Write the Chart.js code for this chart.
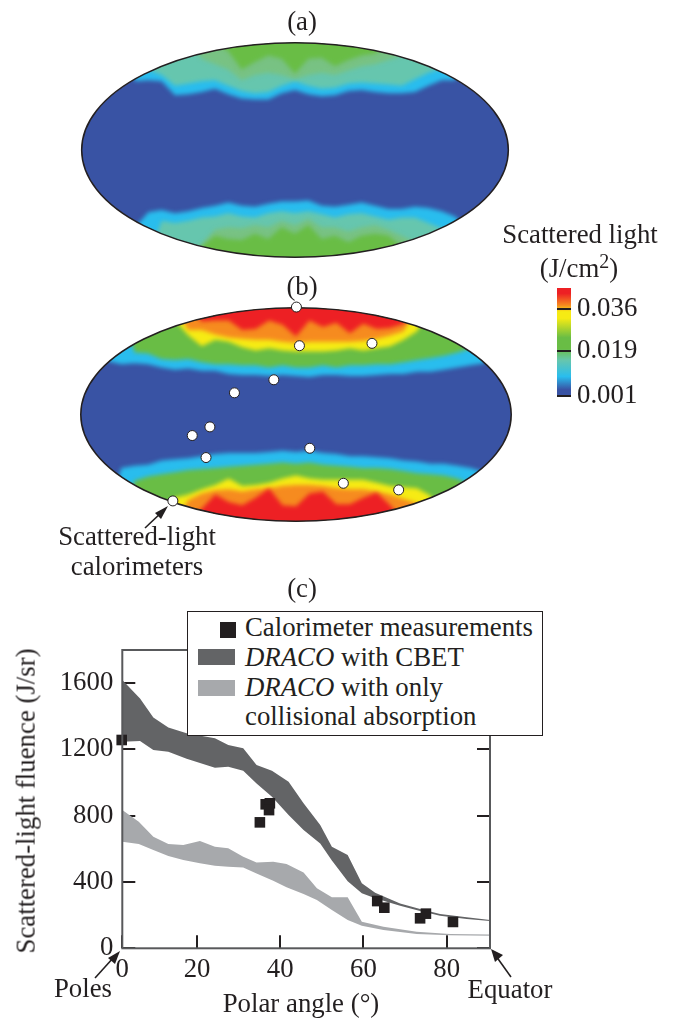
<!DOCTYPE html>
<html>
<head>
<meta charset="utf-8">
<script src="https://cdn.jsdelivr.net/npm/chart.js@4"></script>
<style>
  body { margin: 0; background: #fff; }
  #page { position: relative; width: 675px; height: 1019px; overflow: hidden; color: #231f20;
    font-family: "Liberation Serif", serif; font-size: 26.8px; }
  canvas { position: absolute; }
  .t { position: absolute; line-height: 0; white-space: nowrap; }
  .c { transform: translateX(-50%); }
  sup { font-size: 20px; line-height: 0; vertical-align: 9px; }
  #legend { position: absolute; left: 187px; top: 611px; width: 356px; height: 125px; background: #fff;
    border: 1.5px solid #231f20; box-sizing: border-box; }
  .swatch { position: absolute; }
  svg { position: absolute; left: 0; top: 0; }
</style>
</head>
<body>
<div id="page">
  <canvas id="fluence" width="675" height="419" style="left:0;top:600px"></canvas>
  <canvas id="mapA" width="448" height="236" style="left:71px;top:32px"></canvas>
  <canvas id="mapB" width="452" height="235" style="left:70px;top:297px"></canvas>
  <canvas id="colorbar" width="118" height="130" style="left:557px;top:280px"></canvas>

  <div class="t c" style="left:302px;top:21px">(a)</div>
  <div class="t c" style="left:302px;top:286px">(b)</div>
  <div class="t c" style="left:302px;top:588px">(c)</div>
  <div class="t c" style="left:580px;top:234px">Scattered light</div>
  <div class="t c" style="left:579px;top:261px">(J/cm<sup>2</sup>)</div>
  <div class="t c" style="left:137px;top:536px">Scattered-light</div>
  <div class="t c" style="left:137px;top:566px">calorimeters</div>
  <div class="t c" style="left:83px;top:988px">Poles</div>
  <div class="t c" style="left:510px;top:989px">Equator</div>
  <div class="t c" style="left:301px;top:1003px">Polar angle (°)</div>
  <div style="position:absolute;left:26px;top:801px;line-height:1;white-space:nowrap;transform:translate(-50%,-50%) rotate(-90deg)">Scattered-light fluence (J/sr)</div>

  <div id="legend"></div>
  <div class="swatch" style="left:220px;top:622px;width:16px;height:16px;background:#231f20"></div>
  <div class="swatch" style="left:198px;top:649px;width:37px;height:16px;background:#636466"></div>
  <div class="swatch" style="left:198px;top:680px;width:37px;height:16px;background:#a7a9ac"></div>
  <div class="t" style="left:245px;top:627px">Calorimeter measurements</div>
  <div class="t" style="left:245px;top:657px"><i>DRACO</i> with CBET</div>
  <div class="t" style="left:245px;top:687px"><i>DRACO</i> with only</div>
  <div class="t" style="left:245px;top:716px">collisional absorption</div>

  <svg width="675" height="1019">
    <g stroke="#231f20" stroke-width="1.6" fill="#231f20">
      <line x1="145" y1="528" x2="163" y2="511"/>
      <polygon points="168,506 161,519 155,513" stroke="none"/>
      <line x1="95" y1="978" x2="114" y2="957"/>
      <polygon points="120,951 115,964 108,958" stroke="none"/>
      <line x1="511" y1="977" x2="496" y2="956"/>
      <polygon points="491,949 503,955 495,962" stroke="none"/>
    </g>
  </svg>
</div>

<script>
// panel (c)
const polarTicks = [2.04, 20, 40, 60, 80];
const polarTickLabels = ["0", "20", "40", "60", "80"];
const fluenceTicks = [0, 400, 800, 1200, 1600];

const darkAngle = [2.04, 6.3, 9.5, 13.1, 17.5, 24.3, 27.5, 31.1, 34.3, 38, 42, 45.6, 49.6, 52.4, 56.2, 59.6, 62.8, 68.8, 73.6, 78.4, 84.8, 90.4];
const darkUpper = [1619, 1508, 1393, 1333, 1297, 1267, 1226, 1207, 1106, 1072, 1005, 875, 744, 613, 563, 392, 335, 271, 237, 207, 187, 171];
const darkLower = [1247, 1251, 1196, 1186, 1144, 1090, 1096, 1072, 995, 915, 804, 714, 633, 530, 405, 332, 302, 257, 225, 197, 177, 165];

const lightAngle = [2.04, 6, 9.5, 13.1, 16.7, 20.7, 24.3, 27.5, 31.1, 34.3, 38.3, 41.5, 45.6, 48.8, 52.4, 56.2, 59.6, 64.8, 72.8, 80.8, 90.4];
const lightUpper = [834, 764, 673, 629, 623, 647, 613, 603, 553, 517, 522, 509, 458, 362, 308, 308, 160, 130, 100, 86, 84];
const lightLower = [643, 629, 593, 557, 533, 513, 498, 492, 488, 452, 408, 368, 328, 291, 231, 171, 136, 110, 86, 78, 76];

const measuredAngle = [1.9, 35.1, 36.5, 37.5, 37.3, 63.3, 65, 73.6, 75, 81.5];
const measuredFluence = [1257, 760, 869, 875, 834, 285, 245, 181, 209, 159];

// map panels: contour height (percent of half-height) at each map column, +100/-100 means off the map
const mapX = [-100, -93.75, -87.5, -81.25, -75, -68.75, -62.5, -56.25, -50, -43.75, -37.5, -31.25, -25, -18.75, -12.5, -6.25, 0, 6.25, 12.5, 18.75, 25, 31.25, 37.5, 43.75, 50, 56.25, 62.5, 68.75, 75, 81.25, 87.5, 93.75, 100];

const aTopCyan = [100, 100, 100, 100, 64, 65, 64, 51, 52, 54, 57, 52, 48, 47, 47, 53, 56, 52, 50, 51, 55, 56, 54, 53, 53, 54, 60, 65, 65, 100, 100, 100, 100];
const aTopTeal = [100, 100, 100, 100, 100, 75, 70, 60, 62, 64, 65, 60, 55, 53, 54, 60, 64, 60, 57, 58, 62, 63, 62, 61, 60, 66, 72, 76, 100, 100, 100, 100, 100];
const aTopSage = [100, 100, 100, 100, 100, 100, 100, 100, 100, 85, 80, 75, 65, 70, 72, 70, 66, 70, 72, 70, 74, 78, 80, 84, 88, 100, 100, 100, 100, 100, 100, 100, 100];
const aTopGreen = [100, 100, 100, 100, 100, 100, 100, 100, 100, 100, 100, 92, 75, 82, 88, 85, 71, 85, 86, 78, 84, 88, 90, 100, 100, 100, 100, 100, 100, 100, 100, 100, 100];
const aBottomCyan = [-100, -100, -100, -100, -72, -58, -56, -59, -57, -54, -52, -49, -52, -53, -50, -48, -48, -47, -52, -53, -51, -49, -52, -55, -55, -53, -54, -57, -62, -74, -100, -100, -100];
const aBottomTeal = [-100, -100, -100, -100, -100, -100, -66, -68, -66, -63, -62, -59, -62, -63, -59, -57, -59, -57, -60, -63, -60, -59, -62, -65, -63, -63, -68, -73, -100, -100, -100, -100, -100];
const aBottomSage = [-100, -100, -100, -100, -100, -100, -100, -100, -100, -88, -74, -72, -73, -70, -72, -66, -70, -64, -72, -72, -76, -72, -70, -74, -80, -86, -100, -100, -100, -100, -100, -100, -100];
const aBottomGreen = [-100, -100, -100, -100, -100, -100, -100, -100, -100, -90, -80, -83, -84, -78, -83, -72, -78, -70, -83, -80, -86, -80, -78, -80, -90, -100, -100, -100, -100, -100, -100, -100, -100];

const bTopCyan = [100, 100, 50, 47, 48, 47, 44, 42, 43, 41, 41, 38, 37, 37, 36, 37, 36, 35, 37, 37, 36, 36, 37, 38, 38, 40, 40, 42, 44, 46, 48, 100, 100];
const bTopGreen = [100, 100, 100, 100, 58, 57, 52, 51, 52, 49, 47, 47, 46, 46, 44, 46, 44, 44, 46, 44, 46, 46, 47, 47, 49, 51, 53, 55, 58, 62, 100, 100, 100];
const bTopYellow = [100, 100, 100, 100, 100, 100, 100, 88, 74, 64, 70, 68, 63, 60, 62, 60, 59, 59, 59, 60, 62, 60, 62, 64, 70, 78, 100, 100, 100, 100, 100, 100, 100];
const bTopOrange = [100, 100, 100, 100, 100, 100, 100, 100, 79, 79, 75, 72, 71, 70, 70, 68, 67, 68, 68, 68, 68, 69, 71, 74, 78, 100, 100, 100, 100, 100, 100, 100, 100];
const bTopRed = [100, 100, 100, 100, 100, 100, 100, 100, 100, 87, 88, 88, 79, 80, 88, 84, 73, 88, 82, 86, 76, 85, 80, 81, 85, 100, 100, 100, 100, 100, 100, 100, 100];
const bBottomCyan = [-100, -100, -100, -50, -48, -47, -43, -42, -41, -39, -37, -36, -36, -36, -35, -34, -35, -34, -36, -37, -39, -39, -40, -41, -43, -44, -46, -46, -48, -50, -54, -100, -100];
const bBottomGreen = [-100, -100, -100, -100, -62, -58, -56, -54, -52, -51, -50, -49, -48, -47, -46, -45, -46, -45, -47, -48, -49, -50, -50, -51, -53, -55, -56, -57, -60, -66, -100, -100, -100];
const bBottomYellow = [-100, -100, -100, -100, -100, -100, -100, -78, -75, -70, -66, -60, -67, -66, -64, -60, -57, -60, -61, -61, -61, -61, -64, -67, -68, -69, -76, -100, -100, -100, -100, -100, -100];
const bBottomOrange = [-100, -100, -100, -100, -100, -100, -100, -100, -80, -74, -71, -70, -72, -70, -69, -67, -66, -66, -67, -69, -70, -70, -72, -75, -79, -83, -100, -100, -100, -100, -100, -100, -100];
const bBottomRed = [-100, -100, -100, -100, -100, -100, -100, -100, -100, -88, -75, -82, -85, -78, -69, -85, -86, -74, -72, -84, -84, -78, -73, -85, -100, -100, -100, -100, -100, -100, -100, -100, -100];

const calorimeterX = [0.2, 1.6, 35.3, -10.3, -28.6, -40, -48.2, -41.8, 6.4, 22, 47.7, -57.2];
const calorimeterY = [100.6, 64.4, 66.6, 32.5, 20.3, -11.6, -19.7, -40.3, -31.6, -64.4, -70.6, -80.9];

const colorbarRange = [0.001, 0.0444];
const colorbarTicks = [0.001, 0.019, 0.036];

const INK = "#231f20";
const FONT = "Liberation Serif";
const BLUE = "#3953a4", CYAN = "#29bdee", TEAL = "#66c6ae", SAGE = "#78c283", GREEN = "#69bd45";
const YELLOW = "#f6eb14", ORANGE = "#f68b1f", RED = "#ed2024";

Chart.defaults.animation = false;
Chart.defaults.responsive = false;

function toPoints(xs, ys) {
  return ys.map((y, i) => ({ x: xs[i], y: y }));
}

function contour(ys, color, fillTo, order) {
  return {
    type: "line",
    data: toPoints(mapX, ys),
    backgroundColor: color,
    borderWidth: 0,
    pointRadius: 0,
    fill: fillTo,
    order: order,
  };
}

function ellipsePath(chart) {
  const { ctx, scales } = chart;
  const cx = scales.x.getPixelForValue(0);
  const cy = scales.y.getPixelForValue(0);
  const rx = scales.x.getPixelForValue(100) - cx;
  const ry = scales.y.getPixelForValue(-100) - cy;
  ctx.beginPath();
  ctx.ellipse(cx, cy, rx, ry, 0, 0, Math.PI * 2);
}

// clips the filled contours to the map outline, the calorimeter dots stay on top of it
const mapOutline = {
  id: "mapOutline",
  beforeDraw(chart) {
    const { ctx } = chart;
    ctx.save();
    ellipsePath(chart);
    ctx.clip();
    ctx.fillStyle = BLUE;
    ctx.fill();
    ctx.filter = "blur(2.2px)";
  },
  beforeDatasetsDraw(chart) {
    const { ctx } = chart;
    ctx.restore();
    ellipsePath(chart);
    ctx.strokeStyle = INK;
    ctx.lineWidth = 1.5;
    ctx.stroke();
  },
};

function drawMap(id, datasets) {
  new Chart(document.getElementById(id), {
    data: { datasets: datasets },
    plugins: [mapOutline],
    options: {
      layout: { padding: 0, autoPadding: false },
      plugins: { legend: { display: false }, tooltip: { enabled: false }, filler: { drawTime: "beforeDatasetsDraw" } },
      scales: {
        x: { type: "linear", min: -105, max: 105, display: false },
        y: { type: "linear", min: -110, max: 110, display: false },
      },
    },
  });
}

drawMap("mapA", [
  contour(aTopCyan, CYAN, "end", 8),
  contour(aTopTeal, TEAL, "end", 7),
  contour(aTopSage, SAGE, "end", 6),
  contour(aTopGreen, GREEN, "end", 5),
  contour(aBottomCyan, CYAN, "start", 4),
  contour(aBottomTeal, TEAL, "start", 3),
  contour(aBottomSage, SAGE, "start", 2),
  contour(aBottomGreen, GREEN, "start", 1),
]);

drawMap("mapB", [
  contour(bTopCyan, CYAN, "end", 10),
  contour(bTopGreen, GREEN, "end", 9),
  contour(bTopYellow, YELLOW, "end", 8),
  contour(bTopOrange, ORANGE, "end", 7),
  contour(bTopRed, RED, "end", 6),
  contour(bBottomCyan, CYAN, "start", 5),
  contour(bBottomGreen, GREEN, "start", 4),
  contour(bBottomYellow, YELLOW, "start", 3),
  contour(bBottomOrange, ORANGE, "start", 2),
  contour(bBottomRed, RED, "start", 1),
  {
    type: "scatter",
    data: toPoints(calorimeterX, calorimeterY),
    pointRadius: 5,
    pointBackgroundColor: "#fff",
    pointBorderColor: INK,
    pointBorderWidth: 1,
    clip: false,
    order: 0,
  },
]);

new Chart(document.getElementById("colorbar"), {
  type: "bar",
  data: {
    labels: ["J/cm2"],
    datasets: [{
      data: [colorbarRange],
      barPercentage: 1,
      categoryPercentage: 1,
      backgroundColor(c) {
        const area = c.chart.chartArea;
        if (!area) return BLUE;
        const g = c.chart.ctx.createLinearGradient(0, area.bottom, 0, area.top);
        g.addColorStop(0.06, BLUE);
        g.addColorStop(0.18, CYAN);
        g.addColorStop(0.33, TEAL);
        g.addColorStop(0.44, GREEN);
        g.addColorStop(0.54, GREEN);
        g.addColorStop(0.72, YELLOW);
        g.addColorStop(0.78, YELLOW);
        g.addColorStop(0.84, ORANGE);
        g.addColorStop(0.95, RED);
        return g;
      },
    }],
  },
  options: {
    layout: { padding: { top: 8, bottom: 14 }, autoPadding: false },
    plugins: { legend: { display: false }, tooltip: { enabled: false } },
    scales: {
      x: { display: false },
      y: {
        position: "right",
        min: colorbarRange[0],
        max: colorbarRange[1],
        afterBuildTicks: (s) => { s.ticks = colorbarTicks.map((v) => ({ value: v })); },
        afterFit: (s) => { s.width = 104; s.paddingTop = 0; s.paddingBottom = 0; },
        border: { display: false },
        grid: { color: INK, lineWidth: 2, drawTicks: false, z: 1 },
        ticks: {
          color: INK,
          padding: 6,
          font: { family: FONT, size: 26.8 },
          callback: (v) => v.toFixed(3),
        },
      },
    },
  },
});

// frame round the plot area
const plotFrame = {
  id: "plotFrame",
  afterDatasetsDraw(chart) {
    const { ctx, chartArea: a } = chart;
    ctx.save();
    ctx.strokeStyle = "#58595b";
    ctx.lineWidth = 2;
    ctx.strokeRect(a.left, a.top, a.right - a.left, a.bottom - a.top);
    ctx.restore();
  },
};

const tickGrid = { color: INK, lineWidth: 2, drawOnChartArea: false, tickLength: -13 };

new Chart(document.getElementById("fluence"), {
  data: {
    datasets: [
      {
        type: "scatter",
        label: "Calorimeter measurements",
        data: toPoints(measuredAngle, measuredFluence),
        pointStyle: "rect",
        pointRadius: 7.5,
        pointBackgroundColor: INK,
        pointBorderWidth: 0,
        clip: false,
        order: 0,
      },
      { type: "line", label: "DRACO with CBET", data: toPoints(darkAngle, darkUpper), backgroundColor: "#636466", borderWidth: 0, pointRadius: 0, fill: "+1", order: 1 },
      { type: "line", label: "DRACO with CBET, low", data: toPoints(darkAngle, darkLower), borderWidth: 0, pointRadius: 0, fill: false, order: 1 },
      { type: "line", label: "DRACO with only collisional absorption", data: toPoints(lightAngle, lightUpper), backgroundColor: "#a7a9ac", borderWidth: 0, pointRadius: 0, fill: "+1", order: 2 },
      { type: "line", label: "collisional, low", data: toPoints(lightAngle, lightLower), borderWidth: 0, pointRadius: 0, fill: false, order: 2 },
    ],
  },
  plugins: [plotFrame],
  options: {
    layout: { padding: { top: 50, left: 0, right: 0, bottom: 0 }, autoPadding: false },
    plugins: { legend: { display: false }, tooltip: { enabled: false } },
    scales: {
      // the printed axis starts a little past the spot its own 20-degree spacing puts 0, so the first tick sits at 2.04
      x: {
        type: "linear",
        min: 2.04,
        max: 90.4,
        afterBuildTicks: (s) => { s.ticks = polarTicks.map((v) => ({ value: v })); },
        afterFit: (s) => { s.height = 70.7; },
        border: { display: false },
        grid: tickGrid,
        ticks: {
          color: INK,
          padding: 19,
          maxRotation: 0,
          autoSkip: false,
          font: { family: FONT, size: 26.8 },
          callback: (v, i) => polarTickLabels[i],
        },
      },
      y: {
        type: "linear",
        min: 0,
        max: 1800,
        afterBuildTicks: (s) => { s.ticks = fluenceTicks.map((v) => ({ value: v })); },
        afterFit: (s) => { s.width = 122.3; },
        border: { display: false },
        grid: tickGrid,
        ticks: { color: INK, padding: 22, font: { family: FONT, size: 26.8 } , callback: (v) => String(v) },
      },
      yRight: {
        type: "linear",
        position: "right",
        min: 0,
        max: 1800,
        afterBuildTicks: (s) => { s.ticks = fluenceTicks.map((v) => ({ value: v })); },
        afterFit: (s) => { s.width = 185; },
        border: { display: false },
        grid: tickGrid,
        ticks: { display: false },
      },
    },
  },
});
</script>
</body>
</html>
